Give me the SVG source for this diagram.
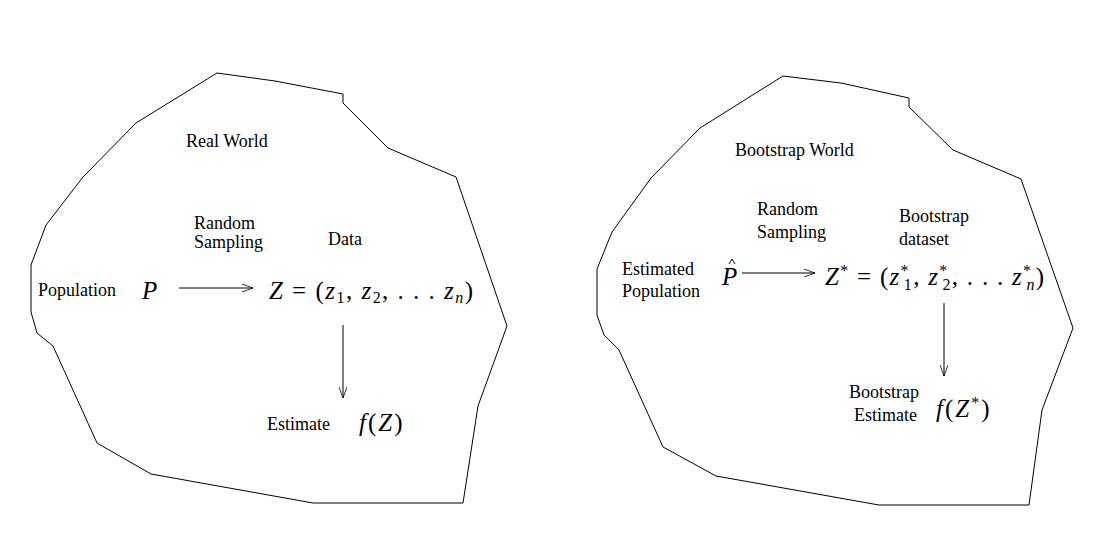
<svg xmlns="http://www.w3.org/2000/svg" width="1098" height="556" viewBox="0 0 1098 556">
<style>
.b{fill:none;stroke:#000;stroke-width:1}
.t{font-family:"Liberation Serif",serif;font-size:18px;fill:#000}
.m{font-family:"Liberation Serif",serif;font-size:25px;fill:#000}
.i{font-style:italic}
.s{font-size:16px}
.c{stroke:#000;stroke-width:1;fill:none}
</style>
<defs><marker id="a" markerWidth="12" markerHeight="8" refX="11" refY="4" orient="auto" markerUnits="userSpaceOnUse"><path d="M0,0 L11,4 L0,8" fill="none" stroke="#000" stroke-width="0.8"/></marker></defs>
<rect width="1098" height="556" fill="#fff"/>
<g id="real-world">
<polygon class="b" points="217,73 275,81 343,94 343,103 388,148 456,177 507,326 478,406 463,503 313,503 151,474 97,443 53,346 37,333 31,312 31,265 46,225 83,177 136,123"/>
<text class="t" x="186" y="147">Real World</text>
<text class="t" x="194" y="229">Random</text><text class="t" x="194" y="248">Sampling</text>
<text class="t" x="328" y="245">Data</text>
</g>
<g id="population"><text class="t" x="38" y="296">Population</text><text class="m i" x="142" y="299">P</text></g>
<g id="data"><text class="m" x="269" y="299" textLength="204"><tspan class="i">Z</tspan> = (<tspan class="i">z</tspan><tspan class="s" dy="4">1</tspan><tspan dy="-4">, </tspan><tspan class="i">z</tspan><tspan class="s" dy="4">2</tspan><tspan dy="-4">, . . . </tspan><tspan class="i">z</tspan><tspan class="s i" dy="4">n</tspan><tspan dy="-4">)</tspan></text></g>
<g id="estimate"><text class="t" x="267" y="430">Estimate</text><text class="m" x="359" y="431" letter-spacing="2"><tspan class="i">f</tspan>(<tspan class="i">Z</tspan>)</text></g>
<g id="bootstrap-world">
<polygon class="b" points="783,76 841,83 909,98 909,107 953,150 1021,179 1073,328 1042,410 1029,505 879,505 716,476 663,447 619,350 604,335 597,315 597,269 612,232 651,178 700,128"/>
<text class="t" x="735" y="156">Bootstrap World</text>
<text class="t" x="757" y="215">Random</text><text class="t" x="757" y="238">Sampling</text>
<text class="t" x="899" y="222">Bootstrap</text><text class="t" x="899" y="245">dataset</text>
</g>
<g id="est-population"><text class="t" x="622" y="275">Estimated</text><text class="t" x="622" y="297">Population</text><text class="m i" x="722" y="285">P</text><path class="c" d="M729,264 L732,259 L735,264" stroke-width="0.9"/></g>
<g id="bootstrap-data"><text class="m" x="825" y="285" textLength="219"><tspan class="i">Z</tspan><tspan class="s" dy="-9">*</tspan><tspan dy="9"> = (</tspan><tspan class="i">z</tspan><tspan class="s" dy="-9">*</tspan><tspan class="s" dx="-6" dy="14">1</tspan><tspan dy="-5">, </tspan><tspan class="i">z</tspan><tspan class="s" dy="-9">*</tspan><tspan class="s" dx="-6" dy="14">2</tspan><tspan dy="-5">, . . . </tspan><tspan class="i">z</tspan><tspan class="s" dy="-9">*</tspan><tspan class="s i" dx="-6" dy="14">n</tspan><tspan dy="-5">)</tspan></text></g>
<g id="bootstrap-estimate"><text class="t" x="919" y="398" text-anchor="end">Bootstrap</text><text class="t" x="917" y="421" text-anchor="end">Estimate</text><text class="m" x="936" y="417" letter-spacing="2"><tspan class="i">f</tspan>(<tspan class="i">Z</tspan><tspan class="s" dy="-9">*</tspan><tspan dy="9">)</tspan></text></g>
<g id="connectors">
<line class="c" x1="179" y1="288" x2="253" y2="288" marker-end="url(#a)"/>
<line class="c" x1="343" y1="325" x2="343" y2="398" marker-end="url(#a)"/>
<line class="c" x1="742" y1="273" x2="815" y2="273" marker-end="url(#a)"/>
<line class="c" x1="944" y1="303" x2="944" y2="376" marker-end="url(#a)"/>
</g>
</svg>
